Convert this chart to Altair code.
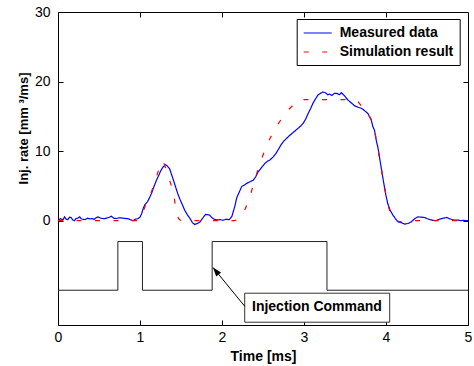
import altair as alt
import pandas as pd

FONT = "Liberation Sans"

# ---------------- data ----------------
meas_t = [0.00, 0.03, 0.06, 0.08, 0.10, 0.12, 0.14, 0.16, 0.18, 0.20, 0.22, 0.24, 0.265, 0.28, 0.30,
          0.33, 0.36, 0.39, 0.41, 0.44, 0.47, 0.49, 0.52, 0.55, 0.57, 0.60, 0.63, 0.65, 0.68, 0.71,
          0.74, 0.77, 0.80, 0.83, 0.85, 0.88, 0.915, 0.94, 0.976, 1.00, 1.02, 1.04, 1.06, 1.09, 1.12,
          1.14, 1.17, 1.20, 1.22, 1.25, 1.28, 1.31, 1.33, 1.36, 1.38, 1.40, 1.43, 1.46, 1.49, 1.52,
          1.545, 1.58, 1.61, 1.64, 1.667, 1.70, 1.73, 1.76, 1.80, 1.83, 1.85, 1.88, 1.91, 1.95, 1.98,
          2.01, 2.05, 2.09, 2.12, 2.155, 2.18, 2.21, 2.24, 2.27, 2.30, 2.34, 2.38, 2.41, 2.44, 2.48,
          2.52, 2.55, 2.58, 2.62, 2.66, 2.69, 2.72, 2.75, 2.785, 2.82, 2.85, 2.89, 2.93, 2.96, 2.99,
          3.02, 3.05, 3.08, 3.11, 3.14, 3.17, 3.20, 3.23, 3.26, 3.29, 3.31, 3.34, 3.37, 3.40, 3.43,
          3.456, 3.49, 3.517, 3.54, 3.57, 3.60, 3.62, 3.66, 3.69, 3.72, 3.75, 3.78, 3.80, 3.82, 3.84,
          3.86, 3.88, 3.90, 3.92, 3.94, 3.96, 3.98, 4.00, 4.02, 4.05, 4.085, 4.12, 4.15, 4.19, 4.23,
          4.27, 4.31, 4.35, 4.39, 4.43, 4.47, 4.50, 4.53, 4.57, 4.61, 4.65, 4.70, 4.74, 4.78, 4.81,
          4.84, 4.88, 4.91, 4.94, 4.97, 5.00]
meas_v = [0.0, 0.3, 0.1, 0.55, 0.2, 0.15, 0.5, 0.45, 0.1, 0.0, 0.3, 0.35, 0.55, 0.3, 0.2,
          0.15, 0.35, 0.25, 0.3, 0.2, 0.45, 0.55, 0.35, 0.3, 0.3, 0.4, 0.5, 0.65, 0.35, 0.3,
          0.4, 0.4, 0.35, 0.3, 0.3, 0.15, 0.0, 0.2, 0.3, 0.5, 1.0, 1.8, 2.3, 2.7, 3.4,
          3.9, 4.9, 5.8, 6.3, 7.1, 7.7, 8.05, 7.9, 7.5, 6.8, 6.1, 5.0, 3.9, 3.0, 2.2,
          1.5, 0.8, 0.3, -0.3, -0.55, -0.4, -0.2, 0.3, 0.9, 0.85, 0.8, 0.4, 0.17, 0.1, 0.15,
          0.05, 0.2, 0.15, 0.6, 2.0, 3.3, 4.1, 4.9, 5.1, 5.35, 5.6, 5.8, 6.3, 7.0, 7.6,
          8.2, 8.5, 8.7, 9.1, 9.7, 10.3, 10.9, 11.4, 11.8, 12.2, 12.5, 12.9, 13.3, 13.6, 14.0,
          14.6, 15.4, 16.1, 16.9, 17.5, 18.06, 18.3, 18.5, 18.4, 18.1, 18.2, 18.0, 18.3, 18.3, 18.1,
          18.4, 18.0, 17.6, 17.3, 17.0, 16.7, 16.5, 16.3, 16.2, 16.0, 15.7, 15.4, 14.9, 14.5, 13.5,
          13.0, 11.6, 10.6, 9.2, 7.7, 6.3, 4.9, 3.6, 2.5, 1.5, 0.8, 0.2, -0.17, -0.3, -0.5,
          -0.4, -0.17, 0.3, 0.55, 0.5, 0.46, 0.3, 0.17, 0.05, 0.0, 0.2, 0.35, 0.46, 0.25, 0.15,
          0.07, 0.1, 0.0, 0.05, 0.0, 0.0]

sim_t = [0.0, 0.5, 0.98, 1.00, 1.03, 1.06, 1.10, 1.15, 1.20, 1.24, 1.27, 1.29, 1.33, 1.37, 1.41,
         1.44, 1.47, 1.50, 2.15, 2.20, 2.26, 2.34, 2.40, 2.47, 2.55, 2.65, 2.78, 2.935, 3.64, 3.72,
         3.78, 3.82, 3.86, 3.90, 3.94, 3.98, 4.02, 4.07, 4.10, 4.20, 4.30, 5.00]
sim_v = [0.0, 0.0, 0.0, 0.3, 1.0, 2.0, 3.0, 4.5, 6.3, 7.8, 8.6, 8.3, 7.0, 5.5, 3.9,
         1.5, 0.3, 0.0, 0.0, 0.2, 1.0, 3.4, 5.9, 8.5, 11.0, 13.3, 15.6, 17.4, 17.4, 16.2,
         15.5, 14.5, 13.0, 10.5, 7.7, 4.9, 2.5, 0.3, 0.0, -0.2, 0.0, 0.0]

cmd_t = [0.0, 0.73, 0.73, 1.03, 1.03, 1.88, 1.88, 3.28, 3.28, 5.0]
cmd_v = [-10, -10, -3, -3, -10, -10, -3, -3, -10, -10]

series_names = ["Measured data", "Simulation result"]
x_ticks = [0, 1, 2, 3, 4, 5]
x_minor = [1, 2, 3, 4]
y_ticks = [0, 10, 20, 30]
y_right = [0, 10, 20]

annot_text = "Injection Command"
# annotation placement (data units)
box_x, box_x2, box_y, box_y2 = 2.277, 4.045, -10.43, -14.6
txt_x, txt_y = 3.158, -13.0
arr_x, arr_y, tip_x, tip_y = 2.277, -12.3, 1.89, -6.73

# ---------------- tables ----------------
lines_df = pd.DataFrame({
    "t": meas_t + sim_t,
    "v": meas_v + sim_v,
    "series": [series_names[0]] * len(meas_t) + [series_names[1]] * len(sim_t),
    "i": list(range(len(meas_t))) + list(range(len(sim_t))),
})
cmd_df = pd.DataFrame({"t": cmd_t, "v": cmd_v, "i": list(range(len(cmd_t)))})
box_df = pd.DataFrame({"x": [box_x], "x2": [box_x2], "y": [box_y], "y2": [box_y2]})
txt_df = pd.DataFrame({"x": [txt_x], "y": [txt_y], "label": [annot_text]})
arr_df = pd.DataFrame({"x": [arr_x], "x2": [tip_x], "y": [arr_y], "y2": [tip_y]})
tip_df = pd.DataFrame({"x": [tip_x], "y": [tip_y]})

xs = alt.Scale(domain=[0, 5], nice=False, zero=False)
ys = alt.Scale(domain=[-15, 30], nice=False, zero=False)

leg = alt.Legend(
    orient="none", legendX=238.7, legendY=7, title=None,
    symbolType="M-1,0H3", symbolSize=196, symbolStrokeWidth=1.2,
    labelFont=FONT, labelFontSize=14, labelFontWeight="bold", labelColor="black",
    labelOffset=21, padding=6, rowPadding=4,
    strokeColor="black", fillColor="white", cornerRadius=0,
)

lines = alt.Chart(lines_df).mark_line(strokeWidth=1.2).encode(
    x=alt.X("t:Q", scale=xs, axis=alt.Axis(
        orient="bottom", values=x_ticks, offset=-5, tickSize=5, tickColor="black",
        domain=False, grid=False, labelFont=FONT, labelFontSize=14, labelColor="black",
        labelPadding=5, labelFlush=False, labelOverlap=False,
        title="Time [ms]", titleFont=FONT, titleFontSize=14, titleFontWeight="bold",
        titleColor="black", titleBaseline="alphabetic", titleY=40.7)),
    y=alt.Y("v:Q", scale=ys, axis=alt.Axis(
        orient="left", values=y_ticks, offset=-5, tickSize=5, tickColor="black",
        domain=False, grid=False, labelFont=FONT, labelFontSize=14, labelColor="black",
        labelPadding=8, labelFlush=False, labelOverlap=False,
        title="Inj. rate [mm  \u00b3/ms]", titleFont=FONT, titleFontSize=13,
        titleFontWeight="bold", titleColor="black", titleAngle=270,
        titleAlign="center", titleBaseline="alphabetic", titleX=-35.3, titleY=116)),
    color=alt.Color("series:N", scale=alt.Scale(domain=series_names, range=["#0000ff", "#ff0000"]), legend=leg),
    strokeDash=alt.StrokeDash("series:N", scale=alt.Scale(domain=series_names, range=[[1, 0], [5, 13.5]]), legend=leg),
    order=alt.Order("i:Q"),
)

cmd = alt.Chart(cmd_df).mark_line(color="#222222", strokeWidth=1).encode(
    x=alt.X("t:Q", scale=xs, axis=alt.Axis(
        orient="top", values=x_minor, offset=-5, tickSize=5, tickColor="black",
        labels=False, domain=False, grid=False, title=None)),
    y=alt.Y("v:Q", scale=ys, axis=alt.Axis(
        orient="right", values=y_right, offset=-5, tickSize=5, tickColor="black",
        labels=False, domain=False, grid=False, title=None)),
    order=alt.Order("i:Q"),
)

box = alt.Chart(box_df).mark_rect(fill="white", stroke="#333333", strokeWidth=1).encode(
    x=alt.X("x:Q", scale=xs, axis=None), x2="x2:Q",
    y=alt.Y("y:Q", scale=ys, axis=None), y2="y2:Q",
)
txt = alt.Chart(txt_df).mark_text(font=FONT, fontSize=14, fontWeight="bold", color="black",
                                  align="center", baseline="alphabetic").encode(
    x=alt.X("x:Q", scale=xs, axis=None),
    y=alt.Y("y:Q", scale=ys, axis=None),
    text="label:N",
)
arrow = alt.Chart(arr_df).mark_rule(color="black", strokeWidth=1).encode(
    x=alt.X("x:Q", scale=xs, axis=None), x2="x2:Q",
    y=alt.Y("y:Q", scale=ys, axis=None), y2="y2:Q",
)
tip = alt.Chart(tip_df).mark_point(shape="M0,0L-0.35,1L0.35,1Z", size=324, angle=321,
                                   filled=True, color="black", opacity=1).encode(
    x=alt.X("x:Q", scale=xs, axis=None),
    y=alt.Y("y:Q", scale=ys, axis=None),
)

chart = alt.layer(lines, cmd, box, txt, arrow, tip).resolve_axis(
    x="independent", y="independent"
).properties(
    width=410, height=313,
    padding={"left": 58, "top": 12, "right": 6, "bottom": 41},
    autosize=alt.AutoSizeParams(type="none"),
    background="white",
).configure_view(stroke="black", strokeWidth=1)

chart.save("out.html", embed_options={"renderer": "svg", "actions": False})
